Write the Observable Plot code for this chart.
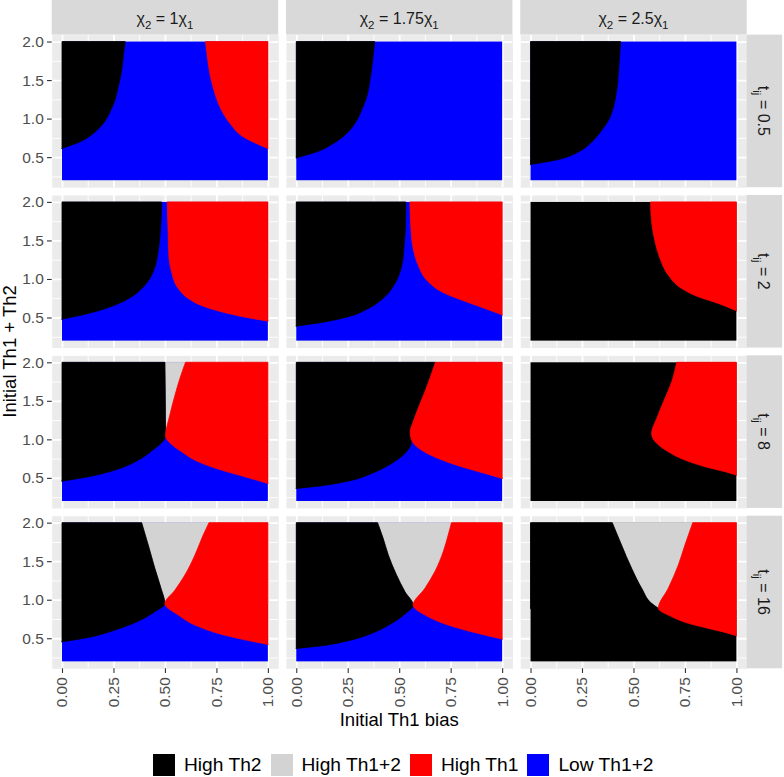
<!DOCTYPE html>
<html><head><meta charset="utf-8">
<script src="https://cdn.jsdelivr.net/npm/d3@7"></script>
<script src="https://cdn.jsdelivr.net/npm/@observablehq/plot@0.6"></script>
<style>
body{margin:0;background:#fff;font-family:"Liberation Sans",Arial,sans-serif;}
#wrap{position:relative;width:784px;height:777px;overflow:hidden;background:#fff;}
#legend{position:absolute;left:153px;top:754px;}
#legend > div{display:flex !important;align-items:center;margin:0 !important;min-height:22px !important;font-size:19.2px !important;font-family:"Liberation Sans",Arial,sans-serif !important;color:#000;flex-wrap:nowrap !important;}
#legend span{margin-right:9px !important;display:inline-flex;align-items:center;white-space:nowrap;}
#legend svg{margin-right:9px !important;}
</style></head>
<body><div id="wrap"><div id="chart"></div><div id="legend"></div></div>
<script>
// ---------- facets, classes, ticks ----------
const chiValues = [1, 1.75, 2.5];
const tValues = [0.5, 2, 8, 16];
const classLabels = ["High Th2", "High Th1+2", "High Th1", "Low Th1+2"];
const classColors = ["#000000", "#D3D3D3", "#FF0000", "#0000FF"];
const xTicks = [0, 0.25, 0.5, 0.75, 1.0];
const yTicks = [0.5, 1.0, 1.5, 2.0];
const xMinor = [0.125, 0.375, 0.625, 0.875];
const yMinor = [0.25, 0.75, 1.25, 1.75];
const xRange = [0, 1];
const yRange = [0.2, 2.0];
// background class of each panel (rows = t, columns = chi)
const backgroundClass = [
  ["Low Th1+2", "Low Th1+2", "Low Th1+2"],
  ["Low Th1+2", "Low Th1+2", "High Th2"],
  ["Low Th1+2", "Low Th1+2", "High Th2"],
  ["Low Th1+2", "Low Th1+2", "High Th2"]
];

// ---------- region boundaries, [x, y] ----------
// t = 0.5
const r1c1_th2 = [[0,0.613],[0.087,0.699],[0.152,0.808],[0.201,0.938],[0.233,1.088],[0.257,1.24],[0.273,1.413],[0.29,1.63],[0.299,1.847],[0.307,2.0]];
const r1c1_th1 = [[0.697,2.0],[0.706,1.803],[0.718,1.587],[0.738,1.37],[0.767,1.153],[0.816,0.938],[0.88,0.764],[1.0,0.613]];
const r1c2_th2 = [[0,0.491],[0.099,0.569],[0.18,0.678],[0.245,0.808],[0.285,0.938],[0.317,1.11],[0.342,1.283],[0.358,1.5],[0.371,1.76],[0.381,2.0]];
const r1c3_th2 = [[0,0.405],[0.136,0.47],[0.233,0.569],[0.298,0.699],[0.346,0.851],[0.379,0.981],[0.403,1.153],[0.416,1.327],[0.424,1.5],[0.43,1.717],[0.437,2.0]];
// t = 2
const r2c1_th2 = [[0,0.479],[0.128,0.553],[0.257,0.661],[0.338,0.769],[0.403,0.921],[0.443,1.094],[0.464,1.31],[0.476,1.57],[0.484,2.0]];
const r2c1_th1 = [[0.511,2.0],[0.516,1.57],[0.519,1.31],[0.532,1.094],[0.565,0.877],[0.613,0.748],[0.694,0.639],[0.807,0.553],[0.905,0.497],[1.0,0.453]];
const r2c2_th2 = [[0,0.388],[0.123,0.436],[0.252,0.51],[0.35,0.618],[0.43,0.769],[0.479,0.942],[0.511,1.159],[0.524,1.44],[0.531,1.743],[0.532,2.0]];
const r2c2_th1 = [[0.552,2.0],[0.557,1.657],[0.568,1.397],[0.592,1.18],[0.641,0.964],[0.706,0.834],[0.803,0.726],[0.916,0.618],[1.0,0.535]];
const r2c3_th1 = [[0.583,2.0],[0.588,1.743],[0.605,1.484],[0.629,1.267],[0.669,1.051],[0.734,0.877],[0.815,0.769],[0.912,0.683],[1.0,0.587]];
// t = 8
const r3c1_th2Low = [[0,0.458],[0.128,0.515],[0.257,0.601],[0.371,0.731],[0.451,0.883],[0.481,0.948],[0.503,1.04]];
const r3c1_th2Mix = [[0.503,1.04],[0.502,1.5],[0.5,2.0]];
const r3c1_mixTh1 = [[0.503,1.04],[0.524,1.316],[0.549,1.575],[0.573,1.792],[0.6,2.0]];
const r3c1_th1Low = [[0.503,1.04],[0.532,0.935],[0.581,0.839],[0.662,0.71],[0.775,0.601],[0.888,0.515],[1.0,0.428]];
const r3c2_th2Low = [[0,0.363],[0.123,0.398],[0.252,0.458],[0.366,0.558],[0.463,0.688],[0.528,0.818],[0.557,0.935],[0.56,0.99]];
const r3c2_th2Th1 = [[0.56,0.99],[0.553,1.099],[0.568,1.229],[0.592,1.402],[0.625,1.619],[0.649,1.792],[0.676,2.0]];
const r3c2_th1Low = [[0.56,0.99],[0.608,0.861],[0.689,0.753],[0.803,0.645],[0.916,0.558],[1.0,0.493]];
const r3c3_th1 = [[0.71,2.0],[0.686,1.748],[0.653,1.532],[0.613,1.272],[0.588,1.077],[0.613,0.948],[0.669,0.839],[0.75,0.731],[0.848,0.645],[0.945,0.58],[1.0,0.536]];
// t = 16
const r4c1_th2Low = [[0,0.455],[0.128,0.511],[0.257,0.606],[0.371,0.723],[0.451,0.845],[0.5,0.948]];
const r4c1_th2Mix = [[0.5,0.948],[0.481,1.148],[0.451,1.407],[0.419,1.71],[0.387,2.0]];
const r4c1_mixTh1 = [[0.5,0.948],[0.549,1.126],[0.597,1.321],[0.646,1.581],[0.686,1.84],[0.714,2.0]];
const r4c1_th1Low = [[0.5,0.948],[0.565,0.801],[0.646,0.671],[0.759,0.563],[0.871,0.49],[1.0,0.42]];
const r4c2_th2Low = [[0,0.368],[0.123,0.403],[0.252,0.468],[0.366,0.563],[0.463,0.693],[0.528,0.814],[0.568,0.93]];
const r4c2_th2Mix = [[0.568,0.93],[0.528,1.104],[0.487,1.321],[0.447,1.581],[0.422,1.797],[0.395,2.0]];
const r4c2_mixTh1 = [[0.568,0.93],[0.625,1.148],[0.673,1.364],[0.714,1.624],[0.738,1.84],[0.754,2.0]];
const r4c2_th1Low = [[0.568,0.93],[0.641,0.78],[0.738,0.671],[0.851,0.585],[1.0,0.49]];
const r4c3_th2Mix = [[0.621,0.888],[0.588,0.953],[0.54,1.148],[0.491,1.407],[0.442,1.71],[0.397,2.0]];
const r4c3_mixTh1 = [[0.621,0.888],[0.669,1.148],[0.718,1.451],[0.75,1.71],[0.788,2.0]];
const r4c3_th2Th1 = [[0.621,0.888],[0.686,0.78],[0.767,0.693],[0.864,0.628],[0.945,0.576],[1.0,0.533]];

// ---------- which boundaries close each region ----------
// High Th2: filled from the left edge to the boundary
const th2Regions = [
  [0.5, 1, [r1c1_th2]], [0.5, 1.75, [r1c2_th2]], [0.5, 2.5, [r1c3_th2]],
  [2, 1, [r2c1_th2]], [2, 1.75, [r2c2_th2]],
  [8, 1, [r3c1_th2Low, r3c1_th2Mix]], [8, 1.75, [r3c2_th2Low, r3c2_th2Th1]],
  [16, 1, [r4c1_th2Low, r4c1_th2Mix]], [16, 1.75, [r4c2_th2Low, r4c2_th2Mix]], [16, 2.5, [r4c3_th2Mix]]
];
// High Th1: filled from the boundary to the right edge
const th1Regions = [
  [0.5, 1, [r1c1_th1]], [2, 1, [r2c1_th1]], [2, 1.75, [r2c2_th1]], [2, 2.5, [r2c3_th1]],
  [8, 1, [r3c1_th1Low, r3c1_mixTh1]], [8, 1.75, [r3c2_th1Low, r3c2_th2Th1]], [8, 2.5, [r3c3_th1]],
  [16, 1, [r4c1_th1Low, r4c1_mixTh1]], [16, 1.75, [r4c2_th1Low, r4c2_mixTh1]], [16, 2.5, [r4c3_th2Th1, r4c3_mixTh1]]
];
// High Th1+2: right of the Th2 boundary above the junction (High Th1 is drawn over it)
const mixRegions = [
  [8, 1, [r3c1_th2Mix]], [16, 1, [r4c1_th2Mix]], [16, 1.75, [r4c2_th2Mix]], [16, 2.5, [r4c3_th2Mix]]
];

// ---------- build tables ----------
function regionRows(specs, cls, side) {
  const rows = [];
  specs.forEach(([t, chi, parts], k) => {
    const pts = parts.flat().slice().sort((a, b) => a[1] - b[1]);
    let last = null;
    for (const [x, y] of pts) {
      if (last !== null && Math.abs(y - last) < 1e-9) continue;
      last = y;
      rows.push({id: cls + k, t, chi, cls, y,
        x1: side === "left" ? xRange[0] : x,
        x2: side === "left" ? x : xRange[1]});
    }
  });
  return rows;
}
const th2Rows = regionRows(th2Regions, "High Th2", "left");
const th1Rows = regionRows(th1Regions, "High Th1", "right");
const mixRows = regionRows(mixRegions, "High Th1+2", "right");
const panels = [];
tValues.forEach((t, i) => chiValues.forEach((chi, j) =>
  panels.push({t, chi, cls: backgroundClass[i][j], x1: xRange[0], x2: xRange[1], y1: yRange[0], y2: yRange[1]})));

// ---------- layout ----------
const W = 784, H = 742;
const mTop = 34.6, mLeft = 51.7, mRight = 37.3, panelBottom = 668.3;
const font = '"Liberation Sans", Arial, sans-serif';
const areaOpts = {y: "y", x1: "x1", x2: "x2", z: "id", fill: "cls", stroke: "cls", strokeWidth: 0.8,
  strokeLinejoin: "miter", fx: "chi", fy: "t", curve: "monotone-y"};

const plot = Plot.plot({
  width: W, height: H,
  marginTop: mTop, marginLeft: mLeft, marginRight: mRight, marginBottom: H - panelBottom,
  style: {fontFamily: font, background: "white"},
  x: {domain: [-0.05, 1.05]},
  y: {domain: [0.11, 2.09]},
  fx: {domain: chiValues, axis: null, paddingInner: 0.0333, paddingOuter: 0, round: false},
  fy: {domain: tValues, axis: null, paddingInner: 0.0486, paddingOuter: 0, round: false},
  color: {type: "ordinal", domain: classLabels, range: classColors},
  marks: [
    Plot.frame({fill: "#EBEBEB", stroke: "none"}),
    Plot.ruleX(xMinor, {stroke: "white", strokeWidth: 0.9}),
    Plot.ruleY(yMinor, {stroke: "white", strokeWidth: 0.9}),
    Plot.ruleX(xTicks, {stroke: "white", strokeWidth: 1.8}),
    Plot.ruleY(yTicks, {stroke: "white", strokeWidth: 1.8}),
    Plot.rect(panels, {x1: "x1", x2: "x2", y1: "y1", y2: "y2", fx: "chi", fy: "t", fill: "cls"}),
    Plot.areaX(mixRows, areaOpts),
    Plot.areaX(th2Rows, areaOpts),
    Plot.areaX(th1Rows, areaOpts),
    Plot.axisX({ticks: xTicks, tickFormat: d3.format(".2f"), tickRotate: -90, tickSize: 4.7, tickPadding: 3.7,
      fontSize: 15.5, label: null, stroke: "#333333", fill: "#4D4D4D", strokeWidth: 1.1}),
    Plot.axisY({ticks: yTicks, tickFormat: d3.format(".1f"), tickSize: 4.7, tickPadding: 3.7,
      fontSize: 15.5, label: null, stroke: "#333333", fill: "#4D4D4D", strokeWidth: 1.1})
  ]
});

// ---------- strips and titles ----------
const svg = d3.select(plot);
const fxS = plot.scale("fx"), fyS = plot.scale("fy");
function band(s) {
  return d3.scaleBand(s.domain, s.range).paddingInner(s.paddingInner ?? 0).paddingOuter(s.paddingOuter ?? 0).align(s.align ?? 0.5);
}
const bandPos = (s, v) => typeof s.apply === "function" ? s.apply(v) : band(s)(v);
const bandW = s => s.bandwidth != null ? s.bandwidth : band(s).bandwidth();

const g = svg.append("g").attr("font-family", font).attr("fill", "#1A1A1A");
for (const c of chiValues) {
  const x0 = bandPos(fxS, c), bw = bandW(fxS);
  g.append("rect").attr("x", x0).attr("y", 0).attr("width", bw).attr("height", mTop).attr("fill", "#D9D9D9");
  const tx = g.append("text").attr("x", x0 + bw / 2).attr("y", 24).attr("text-anchor", "middle").attr("font-size", 16);
  tx.append("tspan").text("\u03C7");
  tx.append("tspan").text("2").attr("font-size", 11.5).attr("dy", 4.5);
  tx.append("tspan").text(" = " + c + "\u03C7").attr("dy", -4.5);
  tx.append("tspan").text("1").attr("font-size", 11.5).attr("dy", 4.5);
}
const stripX = W - mRight;
for (const t of tValues) {
  const y0 = bandPos(fyS, t), bh = bandW(fyS);
  g.append("rect").attr("x", stripX).attr("y", y0).attr("width", 35.4).attr("height", bh).attr("fill", "#D9D9D9");
  const tx = g.append("text").attr("text-anchor", "middle").attr("font-size", 16)
    .attr("transform", `translate(${stripX + 11},${y0 + bh / 2}) rotate(90)`);
  tx.append("tspan").text("t");
  tx.append("tspan").text("ij").attr("font-size", 11.5).attr("dy", 4.5);
  tx.append("tspan").text(" = " + t).attr("dy", -4.5);
}
// axis titles
const fx0 = bandPos(fxS, chiValues[0]), fx1 = bandPos(fxS, chiValues[2]) + bandW(fxS);
const fy0 = bandPos(fyS, tValues[0]), fy1 = bandPos(fyS, tValues[3]) + bandW(fyS);
svg.append("text").attr("x", (fx0 + fx1) / 2).attr("y", 725.7).attr("text-anchor", "middle")
  .attr("font-family", font).attr("font-size", 18.5).attr("fill", "#000").text("Initial Th1 bias");
svg.append("text").attr("transform", `translate(15.5,${(fy0 + fy1) / 2}) rotate(-90)`).attr("text-anchor", "middle")
  .attr("font-family", font).attr("font-size", 18.5).attr("fill", "#000").text("Initial Th1 + Th2");

document.getElementById("chart").appendChild(plot);
document.getElementById("legend").appendChild(plot.legend("color", {swatchSize: 22}));
</script>
</body></html>
